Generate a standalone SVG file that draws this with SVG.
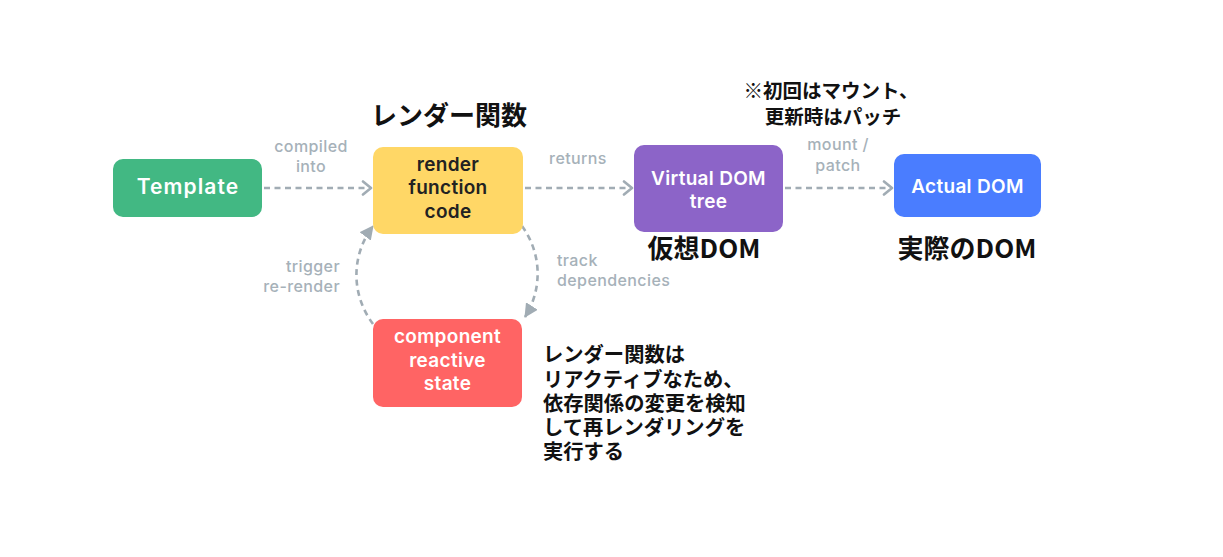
<svg xmlns="http://www.w3.org/2000/svg" width="1223" height="557" viewBox="0 0 1223 557">
<defs>
<style>
.box-label{font-family:Inter,"Noto Sans",sans-serif;font-weight:600;font-size:19px;letter-spacing:0.3px;text-anchor:middle;fill:#ffffff}
.big{font-size:21px;letter-spacing:1.1px}
.dark{fill:#222222}
.edge{fill:none;stroke:#a1acb4;stroke-width:2.6;stroke-dasharray:6 4.5}
.edge-label{font-family:Inter,"Noto Sans",sans-serif;font-weight:500;font-size:16px;letter-spacing:0.4px;fill:#a6b1b9}
.jp{font-family:"Noto Sans CJK JP","Noto Sans",sans-serif;font-weight:700;fill:#111111}
.note{font-size:20.3px}
</style>
<marker id="chev" viewBox="0 0 12 16" markerWidth="12" markerHeight="16" refX="10" refY="8" orient="auto" markerUnits="userSpaceOnUse">
<path d="M2 1.5 L10 8 L2 14.5" fill="none" stroke="#a1acb4" stroke-width="2.6" stroke-linecap="round" stroke-linejoin="round"/>
</marker>
<marker id="tri" viewBox="0 0 14 14" markerWidth="14" markerHeight="14" refX="13" refY="7" orient="auto" markerUnits="userSpaceOnUse">
<path d="M0 0 L14 7 L0 14 Z" fill="#a1acb4"/>
</marker>
</defs>
<rect width="1223" height="557" fill="#ffffff"/>

<g id="connectors">
<path class="edge" d="M264 188 H371" marker-end="url(#chev)"/>
<path class="edge" d="M525 188 H632" marker-end="url(#chev)"/>
<path class="edge" d="M785 188 H892" marker-end="url(#chev)"/>
<path class="edge" d="M373 324 A93 86 0 0 1 373 226" marker-end="url(#tri)"/>
<path class="edge" d="M522 226 A93 86 0 0 1 525 317" marker-end="url(#tri)"/>
<text class="edge-label" text-anchor="middle" x="311" y="152">compiled</text>
<text class="edge-label" text-anchor="middle" x="311" y="172">into</text>
<text class="edge-label" text-anchor="middle" x="578" y="164">returns</text>
<text class="edge-label" text-anchor="middle" x="838" y="150">mount /</text>
<text class="edge-label" text-anchor="middle" x="838" y="171">patch</text>
<text class="edge-label" text-anchor="end" x="340" y="272">trigger</text>
<text class="edge-label" text-anchor="end" x="340" y="292">re-render</text>
<text class="edge-label" x="557" y="266">track</text>
<text class="edge-label" x="557" y="286">dependencies</text>
</g>

<g id="template">
<rect x="113" y="159" width="149" height="58" rx="10" fill="#42b883"/>
<text class="box-label big" x="188" y="194">Template</text>
</g>

<g id="render">
<rect x="373" y="147" width="150" height="87" rx="10" fill="#ffd766"/>
<text class="box-label dark" x="448" y="171">render</text>
<text class="box-label dark" x="448" y="194">function</text>
<text class="box-label dark" x="448" y="218">code</text>
<text class="jp" x="449" y="125" font-size="26" text-anchor="middle">レンダー関数</text>
</g>

<g id="vdom">
<rect x="634" y="145" width="149" height="87" rx="10" fill="#8c64c8"/>
<text class="box-label" x="708.5" y="185">Virtual DOM</text>
<text class="box-label" x="708.5" y="208">tree</text>
<text class="jp" x="704" y="258" font-size="26" text-anchor="middle">仮想DOM</text>
</g>

<g id="actual">
<rect x="894" y="154" width="147" height="63" rx="10" fill="#4a7dff"/>
<text class="box-label" x="967.5" y="193">Actual DOM</text>
<text class="jp" x="967" y="258" font-size="26" text-anchor="middle">実際のDOM</text>
<text class="jp" x="831" y="98" font-size="19.5" text-anchor="middle">※初回はマウント、</text>
<text class="jp" x="833" y="124" font-size="19.5" text-anchor="middle">更新時はパッチ</text>
</g>

<g id="state">
<rect x="373" y="319" width="149" height="88" rx="10" fill="#ff6464"/>
<text class="box-label" x="447.5" y="343">component</text>
<text class="box-label" x="447.5" y="367">reactive</text>
<text class="box-label" x="447.5" y="390">state</text>
</g>

<g id="note">
<text class="jp note" x="543" y="362">レンダー関数は</text>
<text class="jp note" x="543" y="387">リアクティブなため、</text>
<text class="jp note" x="543" y="411">依存関係の変更を検知</text>
<text class="jp note" x="543" y="435">して再レンダリングを</text>
<text class="jp note" x="543" y="459">実行する</text>
</g>
</svg>
